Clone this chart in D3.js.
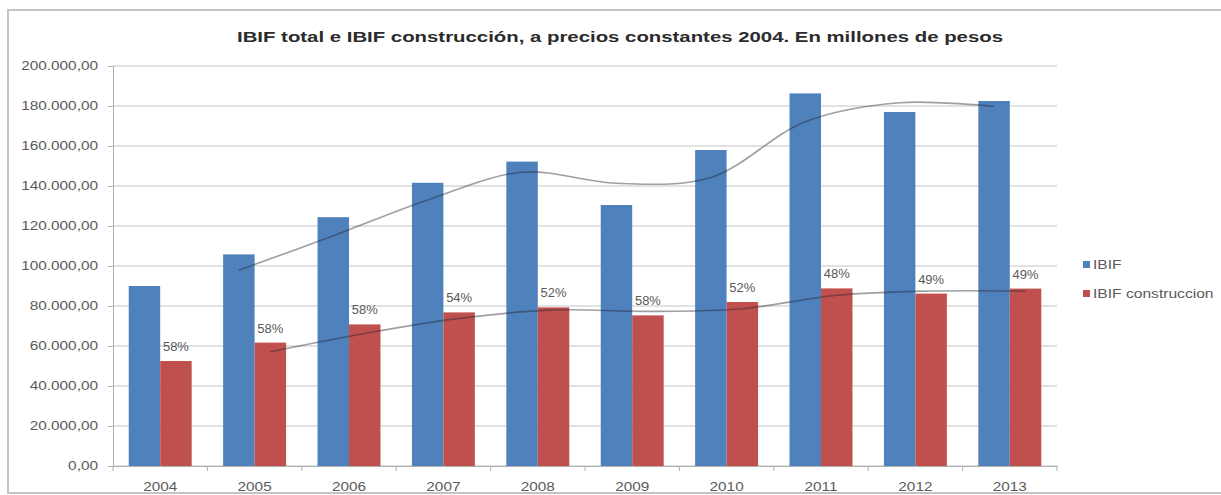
<!DOCTYPE html>
<html>
<head>
<meta charset="utf-8">
<script src="https://cdn.jsdelivr.net/npm/d3@7"></script>
<style>
  html, body { margin: 0; padding: 0; background: #ffffff; }
  svg { display: block; }
  text { font-family: "Liberation Sans", Arial, sans-serif; }
</style>
</head>
<body>
<svg id="chart" width="1221" height="495"></svg>
<script>
// Categories and series (millones de pesos, precios constantes 2004)
const years = ["2004", "2005", "2006", "2007", "2008", "2009", "2010", "2011", "2012", "2013"];
const ibif = [90000, 105800, 124400, 141600, 152200, 130500, 158000, 186300, 177000, 182500];
const ibifConstruccion = [52500, 61700, 70800, 76800, 79300, 75300, 82000, 88800, 86200, 88700];
// Share of construction labels shown above the red bars
const shareLabels = ["58%", "58%", "58%", "54%", "52%", "58%", "52%", "48%", "49%", "49%"];
const seriesNames = ["IBIF", "IBIF construccion"];
const yTicks = [0, 20000, 40000, 60000, 80000, 100000, 120000, 140000, 160000, 180000, 200000];
const titleText = "IBIF total e IBIF construcción, a precios constantes 2004. En millones de pesos";

const colors = { "IBIF": "#4f81bd", "IBIF construccion": "#c0504d" };

const svg = d3.select("#chart");

// chart frame
svg.append("rect")
  .attr("x", 8).attr("y", 10)
  .attr("width", 1240).attr("height", 483)
  .attr("fill", "#ffffff")
  .attr("stroke", "#c3c3c3").attr("stroke-width", 2);

const plot = { left: 113, right: 1057, top: 66, bottom: 466 };

const x0 = d3.scaleBand().domain(years).range([plot.left, plot.right]).padding(0);
const step = x0.step();
const x1 = d3.scaleBand().domain(seriesNames).range([step / 6, step * 5 / 6]).padding(0);
const y = d3.scaleLinear().domain([0, 200000]).range([plot.bottom, plot.top]);

// stretch helper: widens text horizontally
function stretch(sel, factor) {
  sel.each(function () {
    const w = this.getComputedTextLength();
    d3.select(this).attr("textLength", w * factor).attr("lengthAdjust", "spacingAndGlyphs");
  });
}

// gridlines
svg.append("g")
  .selectAll("line")
  .data(yTicks)
  .join("line")
  .attr("x1", plot.left).attr("x2", plot.right)
  .attr("y1", d => y(d)).attr("y2", d => y(d))
  .attr("stroke", "#d9d9d9").attr("stroke-width", 1.5);

// y axis
const locale = d3.formatLocale({ decimal: ",", thousands: ".", grouping: [3], currency: ["$", ""] });
const fmt = locale.format(",.2f");
const yAxis = svg.append("g")
  .attr("transform", `translate(${plot.left},0)`)
  .call(d3.axisLeft(y).tickValues(yTicks).tickFormat(fmt).tickSize(5).tickPadding(10));
yAxis.select(".domain").attr("stroke", "#b0b0b0");
yAxis.selectAll(".tick line").attr("stroke", "#b0b0b0");
yAxis.selectAll(".tick text")
  .attr("fill", "#5a5a5a").attr("font-size", 12).attr("font-family", "Liberation Sans, Arial, sans-serif");
stretch(yAxis.selectAll(".tick text"), 1.28);

// x axis
const xAxis = svg.append("g")
  .attr("transform", `translate(0,${plot.bottom})`)
  .call(d3.axisBottom(x0).tickSize(0).tickPadding(16));
xAxis.select(".domain").attr("stroke", "#b0b0b0");
xAxis.selectAll(".tick text")
  .attr("fill", "#5a5a5a").attr("font-size", 13).attr("font-family", "Liberation Sans, Arial, sans-serif");
stretch(xAxis.selectAll(".tick text"), 1.18);
// category boundary tick marks
svg.append("g")
  .selectAll("line")
  .data(years.concat(["end"]))
  .join("line")
  .attr("x1", (d, i) => plot.left + i * step).attr("x2", (d, i) => plot.left + i * step)
  .attr("y1", plot.bottom).attr("y2", plot.bottom + 5)
  .attr("stroke", "#b0b0b0");

// bars
const rows = years.map((yr, i) => ({
  year: yr,
  values: [
    { key: "IBIF", value: ibif[i] },
    { key: "IBIF construccion", value: ibifConstruccion[i] }
  ]
}));

const groups = svg.append("g")
  .selectAll("g")
  .data(rows)
  .join("g")
  .attr("transform", d => `translate(${x0(d.year)},0)`);

groups.selectAll("rect")
  .data(d => d.values)
  .join("rect")
  .attr("x", d => x1(d.key))
  .attr("width", x1.bandwidth())
  .attr("y", d => y(d.value))
  .attr("height", d => y(0) - y(d.value))
  .attr("fill", d => colors[d.key]);

// 2-period moving-average trendlines, smoothed
function movingAverage(values, key) {
  const pts = [];
  for (let i = 1; i < values.length; i++) {
    pts.push({
      x: x0(years[i]) + x1(key) + x1.bandwidth() / 2,
      v: (values[i] + values[i - 1]) / 2
    });
  }
  return pts;
}
const trendLine = d3.line().x(d => d.x).y(d => y(d.v)).curve(d3.curveCatmullRom.alpha(0.5));
[[ibif, "IBIF"], [ibifConstruccion, "IBIF construccion"]].forEach(([vals, key]) => {
  svg.append("path")
    .attr("d", trendLine(movingAverage(vals, key)))
    .attr("fill", "none")
    .attr("stroke", "rgba(40,40,50,0.45)")
    .attr("stroke-width", 1.6);
});

// percentage labels above construction bars
const pct = svg.append("g")
  .selectAll("text")
  .data(years)
  .join("text")
  .attr("x", (d, i) => x0(d) + x1("IBIF construccion") + x1.bandwidth() / 2)
  .attr("y", (d, i) => y(ibifConstruccion[i]) - 10)
  .attr("text-anchor", "middle")
  .attr("font-size", 12)
  .attr("fill", "#5a5a5a")
  .text((d, i) => shareLabels[i]);
stretch(pct, 1.08);

// title
svg.append("text")
  .attr("x", 620).attr("y", 42)
  .attr("text-anchor", "middle")
  .attr("font-size", 15).attr("font-weight", "bold")
  .attr("fill", "#2b2b2b")
  .attr("textLength", 766).attr("lengthAdjust", "spacingAndGlyphs")
  .text(titleText);

// legend
const legend = svg.append("g")
  .selectAll("g")
  .data(seriesNames)
  .join("g")
  .attr("transform", (d, i) => `translate(1083,${264 + i * 29})`);
legend.append("rect")
  .attr("x", 0).attr("y", -3).attr("width", 7).attr("height", 7)
  .attr("fill", d => colors[d]);
const legendText = legend.append("text")
  .attr("x", 10).attr("y", 4.5)
  .attr("font-size", 12)
  .attr("fill", "#5a5a5a")
  .text(d => d);
stretch(legendText, 1.3);
</script>
</body>
</html>
